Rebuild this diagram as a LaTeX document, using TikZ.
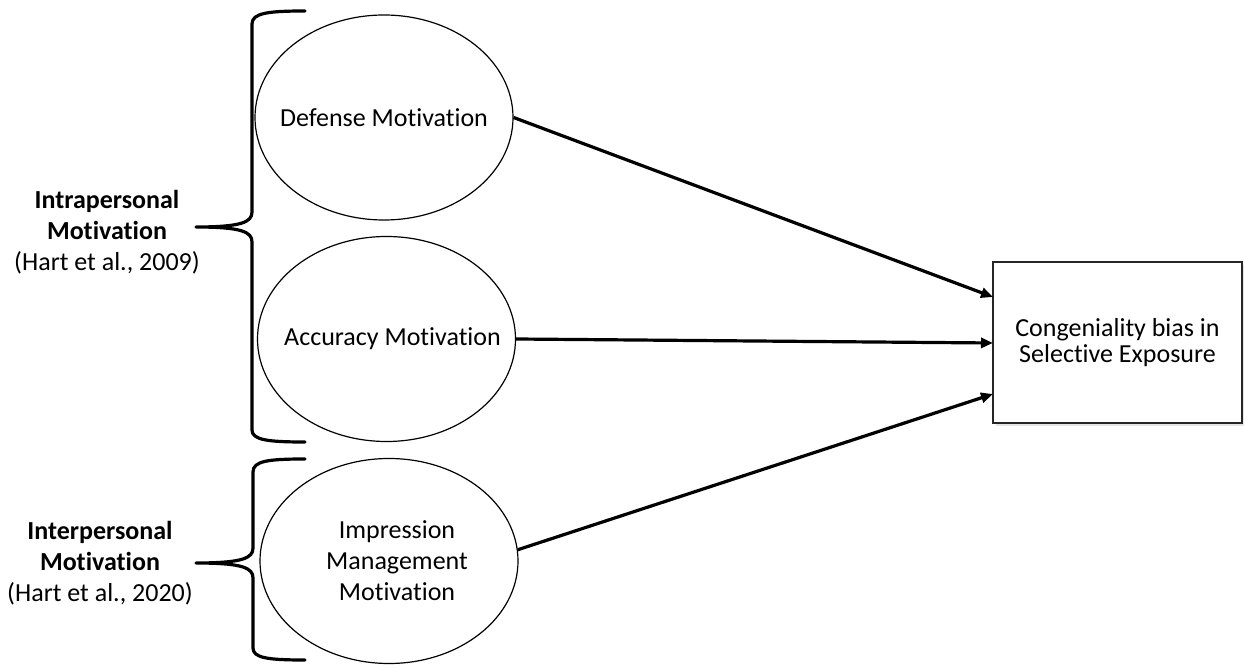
\documentclass[tikz,border=0pt]{standalone}
\usepackage{fontspec}
\setmainfont{Carlito}[Ligatures=NoCommon]
\usetikzlibrary{shapes.geometric,arrows.meta}
\begin{document}
\begin{tikzpicture}[x=0.5pt,y=-0.5pt,
  motiv/.style={ellipse,draw,line width=0.6pt,minimum width=129pt,minimum height=102.5pt,inner sep=0pt,align=center,font=\fontsize{13}{15.5}\selectfont},
  outbox/.style={rectangle,draw=black!85,fill=white,line width=0.6pt,minimum width=124.5pt,minimum height=80.5pt,inner sep=0pt,align=center,font=\fontsize{13}{12.8}\selectfont},
  grouplabel/.style={align=center,inner sep=0pt,font=\fontsize{13}{15.5}\selectfont},
  bracestroke/.style={line width=1.6pt,line cap=round,line join=round},
  link/.style={line width=1.6pt,-{Triangle[length=6pt,width=5pt]}}]
\useasboundingbox (0,0) rectangle (1244,668);
\fill[white] (0,0) rectangle (1244,668);

% braces
\draw[bracestroke] (305,11) .. controls (268,11) and (252,13) .. (252,24) -- (252,212)
  .. controls (252,222) and (242,227) .. (196,227)
  .. controls (242,227) and (252,232) .. (252,242) -- (252,430)
  .. controls (252,440) and (268,442) .. (305,442);
\draw[bracestroke] (305,459) .. controls (268,459) and (253,461) .. (253,472) -- (253,548)
  .. controls (253,558) and (243,563) .. (196,563)
  .. controls (243,563) and (253,568) .. (253,578) -- (253,648)
  .. controls (253,658) and (268,660) .. (305,660);

% group labels
\node[grouplabel] (intra) at (107,232.5) {\textbf{Intrapersonal}\\\textbf{Motivation}\\(Hart et al., 2009)};
\node[grouplabel] (inter) at (100,563) {\textbf{Interpersonal}\\\textbf{Motivation}\\(Hart et al., 2020)};

% motivations
\node[motiv] (def) at (384,117.5) {\makebox[0pt]{Defense Motivation}};
\node[motiv] (acc) at (386.5,339) {\makebox[0pt]{\hspace{6pt}Accuracy Motivation}};
\node[motiv] (imp) at (389,561) {\hspace{8pt}Impression\\\hspace{8pt}Management\\\hspace{8pt}Motivation};

% outcome box with faint shadow
\fill[black!10] (996,265) rectangle (1244,426);
\node[outbox] (cong) at (1117.5,342.5) {Congeniality bias in\\Selective Exposure};

\coordinate (t1) at (993,297);
\coordinate (t2) at (993,343);
\coordinate (t3) at (993,394);
\draw[link] (def.east) -- (t1);
\draw[link] (acc.east) -- (t2);
\draw[link] (imp.5) -- (t3);
\end{tikzpicture}
\end{document}
